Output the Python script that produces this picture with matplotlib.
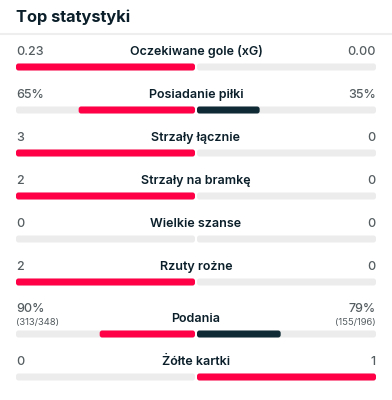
import matplotlib
matplotlib.use('Agg')
import matplotlib.pyplot as plt
from matplotlib.patches import FancyBboxPatch

plt.rcParams['font.family'] = ['Inter', 'DejaVu Sans']

# dane
labels = ['Oczekiwane gole (xG)', 'Posiadanie piłki', 'Strzały łącznie', 'Strzały na bramkę',
          'Wielkie szanse', 'Rzuty rożne', 'Podania', 'Żółte kartki']
home_txt = ['0.23', '65%', '3', '2', '0', '2', '90%', '0']
away_txt = ['0.00', '35%', '0', '0', '0', '0', '79%', '1']
home_sub = ['', '', '', '', '', '', '(313/348)', '']
away_sub = ['', '', '', '', '', '', '(155/196)', '']
home_val = [0.23, 65, 3, 2, 0, 2, 90, 0]
away_val = [0.00, 35, 0, 0, 0, 0, 79, 1]

RED = '#ff0046'
DARK = '#0f2a35'
GREY_BG = '#ececec'
TXT = '#0b1f2a'
NUM = '#555d61'

W, H = 392, 400
fig = plt.figure(figsize=(W / 100, H / 100), dpi=100)
ax = fig.add_axes([0, 0, 1, 1])
ax.set_xlim(0, W); ax.set_ylim(H, 0); ax.axis('off')

ax.text(16, 17, 'Top statystyki', fontsize=11.8, fontweight='bold', color=TXT, va='center', ha='left')
ax.axhline(34, color='#eeeeee', lw=1.5)

x0, xc, x1 = 16, 196, 376
half = xc - 1 - x0
bar_h = 7


def bar(xa, xb, yc, color):
    if xb - xa <= 0:
        return
    ax.add_patch(FancyBboxPatch((xa, yc - bar_h / 2), xb - xa, bar_h,
                                boxstyle='round,pad=0,rounding_size=2.5',
                                fc=color, ec='none', mutation_aspect=1))


y = 67
for i, lab in enumerate(labels):
    if home_sub[i]:
        y += 9
    # tło
    bar(x0, xc - 1, y, GREY_BG)
    bar(xc + 1, x1, y, GREY_BG)
    tot = home_val[i] + away_val[i]
    if tot > 0:
        hf = home_val[i] / tot
        af = away_val[i] / tot
        hc = RED if home_val[i] >= away_val[i] else DARK
        ac = RED if away_val[i] > home_val[i] else DARK
        bar(xc - 1 - hf * half, xc - 1, y, hc)
        bar(xc + 1, xc + 1 + af * half, y, ac)
    ty = y - 15
    if home_sub[i]:
        ax.text(x0, ty - 10, home_txt[i], fontsize=9, fontweight='medium', color=NUM, ha='left', va='center')
        ax.text(x1, ty - 10, away_txt[i], fontsize=9, fontweight='medium', color=NUM, ha='right', va='center')
        ax.text(x0, ty + 4, home_sub[i], fontsize=6.8, color=NUM, ha='left', va='center')
        ax.text(x1, ty + 4, away_sub[i], fontsize=6.8, color=NUM, ha='right', va='center')
    else:
        ax.text(x0, ty, home_txt[i], fontsize=9, fontweight='medium', color=NUM, ha='left', va='center')
        ax.text(x1, ty, away_txt[i], fontsize=9, fontweight='medium', color=NUM, ha='right', va='center')
    ax.text(xc, ty, lab, fontsize=9, fontweight='semibold', color=TXT, ha='center', va='center')
    y += 43

fig.savefig('out.png', dpi=100, facecolor='white')
